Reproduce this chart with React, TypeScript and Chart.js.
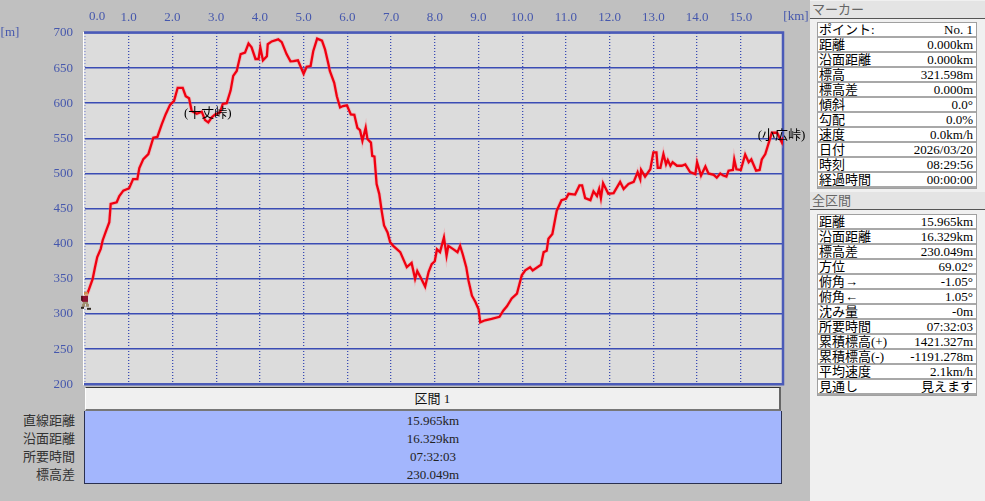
import React, { useEffect, useRef } from "react";
import { Chart, registerables } from "chart.js";

Chart.register(...registerables);

const kmValues = [0,0.076,0.176,0.229,0.28,0.36,0.405,0.48,0.556,0.588,0.725,0.785,0.877,1.01,1.1,1.197,1.243,1.334,1.449,1.563,1.655,1.755,1.846,1.945,2.037,2.12,2.235,2.304,2.38,2.44,2.556,2.67,2.746,2.82,2.9,2.975,3.09,3.15,3.24,3.33,3.39,3.47,3.56,3.66,3.74,3.81,3.9,3.97,4.01,4.07,4.16,4.18,4.27,4.42,4.5,4.61,4.7,4.77,4.87,5.0,5.07,5.16,5.22,5.31,5.42,5.49,5.57,5.6,5.7,5.76,5.835,5.9,5.99,6.08,6.16,6.23,6.29,6.345,6.42,6.46,6.54,6.57,6.62,6.67,6.73,6.79,6.84,6.92,6.98,7.05,7.21,7.36,7.47,7.55,7.6,7.68,7.78,7.86,7.93,8.0,8.05,8.12,8.21,8.27,8.31,8.43,8.52,8.58,8.64,8.72,8.77,8.85,8.93,9.0,9.04,9.15,9.3,9.48,9.57,9.65,9.76,9.88,9.99,10.07,10.18,10.24,10.43,10.49,10.56,10.6,10.69,10.79,10.9,11.0,11.06,11.21,11.31,11.37,11.44,11.56,11.63,11.71,11.76,11.8,11.85,11.97,12.09,12.24,12.32,12.43,12.55,12.64,12.7,12.72,12.81,12.93,13.0,13.07,13.1,13.16,13.23,13.29,13.33,13.39,13.44,13.54,13.65,13.73,13.84,13.96,14.0,14.09,14.19,14.26,14.38,14.45,14.53,14.6,14.67,14.72,14.82,14.85,14.9,15.0,15.1,15.18,15.24,15.35,15.43,15.48,15.56,15.71,15.83,15.94,15.965];
const elevationValues = [321.6,332.6,350,366.6,381,392.7,405,417.8,430.6,456.6,459,468,475.6,479,492,492,507.8,520.5,527.6,551,552,570,584.4,597.7,603.4,622,622,610,607,589,585,588,576,572.7,580,584,587,599,600,618,639,646,670,672,685,679.6,663,663,679.6,661,667,684,688,691,687,670,659.6,660,661,642,652,653,674,692,689,676.6,655,646,629,610,594,596,597,584,583.5,565,561.6,546.6,565,549,544,525,524,485,471,445,426,416,402,397,388,366.6,372.6,350,361,351.6,339,360,371,375,392,388,409,383,397,392,388,397,385,366.6,348,326,317,307,288,291,293,296,305,311,322,329,355,362,366.6,362,370,388,390,407,414,447,462,464,471,470,483,483,465,462,474.6,468,478,465,486,471,472,488,478,485,488,502,492,505,495.5,506,530,530,508,508,527.6,513,519,511,516,511,511,513,502,499,516,497,510,500,498,494,500,497,495.5,504,505,520,506,505,527,516,520,504,505,520,527.6,558,558,544,551.6];

const peakKm = [2.81, 15.93];
const peakElevation = [585, 554];
const peakNames = ["(十丈峠)", "(小広峠)"];

const markerRows = [
  ["ポイント:", "No. 1"], ["距離", "0.000km"], ["沿面距離", "0.000km"], ["標高", "321.598m"],
  ["標高差", "0.000m"], ["傾斜", "0.0°"], ["勾配", "0.0%"], ["速度", "0.0km/h"],
  ["日付", "2026/03/20"], ["時刻", "08:29:56"], ["経過時間", "00:00:00"],
];
const totalRows = [
  ["距離", "15.965km"], ["沿面距離", "16.329km"], ["標高差", "230.049m"], ["方位", "69.02°"],
  ["俯角→", "-1.05°"], ["俯角←", "1.05°"], ["沈み量", "-0m"], ["所要時間", "07:32:03"],
  ["累積標高(+)", "1421.327m"], ["累積標高(-)", "-1191.278m"], ["平均速度", "2.1km/h"], ["見通し", "見えます"],
];
const sectionLabels = ["直線距離", "沿面距離", "所要時間", "標高差"];
const sectionValues = ["15.965km", "16.329km", "07:32:03", "230.049m"];

const FONT = '"Liberation Serif", "Noto Sans CJK JP", serif';
const AXIS_BLUE = "#4557ad";
const GRID_BLUE = "#3a4cb4";

function makeClimber(): HTMLCanvasElement {
  const c = document.createElement("canvas");
  c.width = 20;
  c.height = 30;
  const g = c.getContext("2d")!;
  const px = (col: string, x: number, y: number, w: number, h: number) => {
    g.fillStyle = col;
    g.fillRect(x, y, w, h);
  };
  px("#c98a50", 9, 8, 4, 3);
  px("#e0a878", 10, 10, 3, 2);
  px("#8c1030", 7, 12, 6, 6);
  px("#5a1020", 6, 12, 2, 5);
  px("#a09070", 8, 18, 5, 2);
  px("#a09070", 7, 20, 3, 3);
  px("#a09070", 11, 20, 3, 3);
  px("#302820", 6, 23, 3, 2);
  px("#302820", 12, 24, 4, 2);
  return c;
}

const framePlugin = {
  id: "frame",
  beforeDatasetsDraw(chart: any) {
    const { ctx, chartArea: a } = chart;
    ctx.save();
    ctx.fillStyle = "#ffffff";
    ctx.fillRect(a.left - 2, a.top - 1, 1.5, a.bottom - a.top + 2);
    ctx.strokeStyle = "#4a5ab8";
    ctx.lineWidth = 2.5;
    ctx.beginPath();
    ctx.moveTo(a.left - 1, a.top - 0.5);
    ctx.lineTo(a.right, a.top - 0.5);
    ctx.lineTo(a.right, a.bottom);
    ctx.lineTo(a.left - 1, a.bottom);
    ctx.stroke();
    ctx.restore();
  },
  afterDraw(chart: any) {
    const { ctx, scales } = chart;
    ctx.save();
    ctx.font = `13px ${FONT}`;
    ctx.textAlign = "center";
    ctx.textBaseline = "middle";
    ctx.fillStyle = "#000000";
    peakNames.forEach((name, i) => {
      ctx.fillText(name, scales.x.getPixelForValue(peakKm[i]), scales.y.getPixelForValue(peakElevation[i]));
    });
    ctx.fillStyle = AXIS_BLUE;
    ctx.fillText((0).toFixed(1), scales.x.getPixelForValue(0) + 12, 17);
    ctx.fillText("[km]", 796, 17);
    ctx.fillText("[m]", 10, 33);
    ctx.restore();
  },
};

function Row({ label, value }: { label: string; value: string }) {
  return (
    <div style={{ height: 13, lineHeight: "13px", background: "#fff", borderBottom: "2px solid #a8a8a8", display: "flex", justifyContent: "space-between", padding: "0 3px 0 1px", color: "#000", whiteSpace: "nowrap" }}>
      <span>{label}</span>
      <span>{value}</span>
    </div>
  );
}

function Panel({ top, rows }: { top: number; rows: string[][] }) {
  return (
    <div style={{ position: "absolute", left: 817, top, width: 158, border: "1px solid #a0a0a0" }}>
      {rows.map((r) => (
        <Row key={r[0]} label={r[0]} value={r[1]} />
      ))}
    </div>
  );
}

function Heading({ top, text }: { top: number; text: string }) {
  return (
    <div style={{ position: "absolute", left: 810, top, width: 174, height: 17, lineHeight: "17px", background: "#e4e4e4", borderRight: "1px solid #555", borderBottom: "1px solid #555", color: "#666", paddingLeft: 2, boxSizing: "content-box" }}>
      {text}
    </div>
  );
}

export default function App() {
  const ref = useRef<HTMLCanvasElement>(null);

  useEffect(() => {
    const points = kmValues.map((x, i) => ({ x, y: elevationValues[i] }));
    const chart = new Chart(ref.current!, {
      type: "line",
      data: {
        datasets: [
          { data: [points[0]], pointStyle: makeClimber() as any, pointRadius: 10, showLine: false, clip: false as any, order: 0 },
          { data: points, borderColor: "#f00010", borderWidth: 2.3, pointRadius: 0, tension: 0, order: 1 },
          { data: points, borderColor: "rgba(255,120,130,0.3)", borderWidth: 4, pointRadius: 0, tension: 0, order: 2 },
        ],
      },
      options: {
        animation: false,
        responsive: false,
        events: [],
        layout: { padding: { left: 0, right: 27, top: 0, bottom: 12 } },
        plugins: { legend: { display: false }, tooltip: { enabled: false } },
        scales: {
          x: {
            type: "linear",
            position: "top",
            min: 0,
            max: 15.965,
            afterFit(s: any) { s.height = 33; },
            border: { display: false, dash: [1, 2] },
            grid: { color: GRID_BLUE, lineWidth: 1.3, drawTicks: false },
            ticks: {
              stepSize: 1,
              includeBounds: false,
              autoSkip: false,
              maxRotation: 0,
              padding: 8,
              color: AXIS_BLUE,
              font: { family: FONT, size: 13 },
              callback: (v: any) => (Number(v) === 0 ? "" : Number(v).toFixed(1)),
            },
          },
          y: {
            type: "linear",
            min: 200,
            max: 700,
            afterFit(s: any) { s.width = 85; },
            border: { display: false },
            grid: { color: GRID_BLUE, lineWidth: 1.5, drawTicks: false },
            ticks: {
              stepSize: 50,
              padding: 12,
              color: AXIS_BLUE,
              font: { family: FONT, size: 13 },
            },
          },
        },
      } as any,
      plugins: [
        {
          id: "plotBackground",
          beforeDraw(c: any) {
            const { ctx, chartArea: a } = c;
            ctx.save();
            ctx.fillStyle = "#dcdcdc";
            ctx.fillRect(a.left, a.top, a.right - a.left, a.bottom - a.top);
            ctx.restore();
          },
        },
        framePlugin,
      ],
    } as any);
    return () => chart.destroy();
  }, []);

  return (
    <div style={{ position: "fixed", left: 0, top: 0, width: 985, height: 501, background: "#c0c0c0", overflow: "hidden", font: `13px ${FONT}` }}>
      <canvas ref={ref} width={810} height={404} style={{ position: "absolute", left: 0, top: 0, width: 810, height: 404 }} />

      <div style={{ position: "absolute", left: 85, top: 387, width: 696, height: 24, boxSizing: "border-box", lineHeight: "22px", textAlign: "center", background: "#f0f0f0", color: "#111", borderTop: "1px solid #333", borderLeft: "1px solid #fff", borderRight: "2px solid #666", borderBottom: "2px solid #777" }}>
        区間 1
      </div>
      <div style={{ position: "absolute", left: 84, top: 411, width: 698, height: 73, boxSizing: "border-box", background: "#a3b6fd", border: "1px solid #2a3050", borderTop: "none", textAlign: "center", color: "#222", paddingTop: 1 }}>
        {sectionValues.map((v) => (
          <div key={v} style={{ height: 18, lineHeight: "18px" }}>{v}</div>
        ))}
      </div>
      <div style={{ position: "absolute", left: 0, top: 412, width: 75, textAlign: "right", color: "#333" }}>
        {sectionLabels.map((v) => (
          <div key={v} style={{ height: 18, lineHeight: "18px" }}>{v}</div>
        ))}
      </div>

      <div style={{ position: "absolute", left: 810, top: 0, width: 175, height: 501, background: "#f0f0f0" }} />
      <Heading top={1} text="マーカー" />
      <Panel top={22} rows={markerRows} />
      <Heading top={192} text="全区間" />
      <Panel top={214} rows={totalRows} />
    </div>
  );
}
